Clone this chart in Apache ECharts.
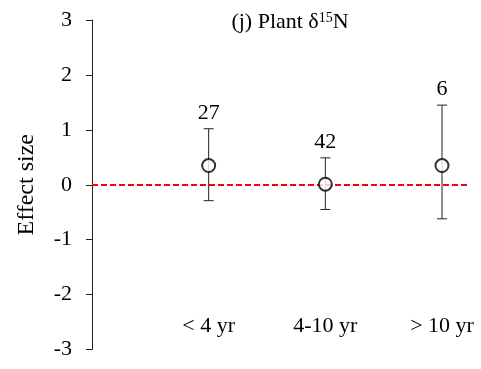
<!DOCTYPE html>
<html>
<head>
<meta charset="utf-8">
<script src="https://cdn.jsdelivr.net/npm/echarts@6/dist/echarts.min.js"></script>
<style>
  html, body { margin: 0; padding: 0; background: #fff; }
  #chart { width: 481px; height: 369px; }
</style>
</head>
<body>
<div id="chart"></div>
<script>
// Stand age classes and their mean effect sizes with 95% CI
const categories = ['< 4 yr', '4-10 yr', '> 10 yr'];
const positions = [1, 2, 3];
const means = [0.35, 0.01, 0.35];
const lowerCI = [-0.29, -0.45, -0.62];
const upperCI = [1.02, 0.49, 1.45];
const sampleSizes = ['27', '42', '6'];
const yTicks = [-3, -2, -1, 0, 1, 2, 3];

const SERIF = '"Liberation Serif", "Times New Roman", serif';

const chart = echarts.init(document.getElementById('chart'));

const barData = positions.map((x, i) => [x, lowerCI[i], upperCI[i], sampleSizes[i]]);
const pointData = positions.map((x, i) => [x, means[i]]);

chart.setOption({
  animation: false,
  backgroundColor: '#ffffff',
  title: {
    text: '(j) Plant δ{sup|15}N',
    left: 285, top: 6, textAlign: 'center',
    textStyle: {
      fontFamily: SERIF, fontSize: 22, fontWeight: 'normal', color: '#000',
      rich: {
        sup: { fontFamily: SERIF, fontSize: 14, verticalAlign: 'top', color: '#000', padding: [0, 0, 9, 0] }
      }
    }
  },
  grid: { left: 92, right: 11, top: 20, bottom: 19.5, containLabel: false },
  xAxis: {
    type: 'value', min: 0, max: 3.24, interval: 1,
    axisLine: { show: false }, axisTick: { show: false }, splitLine: { show: false },
    axisLabel: {
      show: true, margin: -34, fontFamily: SERIF, fontSize: 22, color: '#000',
      formatter: v => { const i = positions.indexOf(v); return i >= 0 ? categories[i] : ''; }
    }
  },
  yAxis: {
    type: 'value', min: yTicks[0], max: yTicks[yTicks.length - 1], interval: 1,
    name: 'Effect size', nameLocation: 'middle', nameGap: 53, nameRotate: 90,
    nameTextStyle: { fontFamily: SERIF, fontSize: 24, color: '#000' },
    axisLine: { show: true, lineStyle: { color: '#222', width: 1 } },
    axisTick: { show: true, length: 6, lineStyle: { color: '#222', width: 1 } },
    splitLine: { show: false },
    axisLabel: { margin: 20, fontFamily: SERIF, fontSize: 22, color: '#000' }
  },
  series: [
    {
      type: 'custom',
      data: barData,
      z: 2,
      renderItem: function (params, api) {
        const x = api.value(0);
        const lo = api.coord([x, api.value(1)]);
        const hi = api.coord([x, api.value(2)]);
        const cap = 5;
        const style = { stroke: '#222', lineWidth: 1 };
        return {
          type: 'group',
          children: [
            { type: 'line', shape: { x1: lo[0], y1: lo[1], x2: hi[0], y2: hi[1] }, style },
            { type: 'line', shape: { x1: hi[0] - cap, y1: hi[1], x2: hi[0] + cap, y2: hi[1] }, style },
            { type: 'line', shape: { x1: lo[0] - cap, y1: lo[1], x2: lo[0] + cap, y2: lo[1] }, style },
            {
              type: 'text',
              style: {
                x: hi[0], y: hi[1] - 16, text: api.value(3),
                align: 'center', verticalAlign: 'middle',
                font: '22px ' + SERIF, fill: '#000'
              }
            }
          ]
        };
      }
    },
    {
      type: 'scatter',
      data: pointData,
      symbol: 'circle', symbolSize: 13, z: 5,
      itemStyle: { color: '#fff', borderColor: '#000', borderWidth: 2 },
      markLine: {
        silent: true, symbol: ['none', 'none'], label: { show: false },
        lineStyle: { color: '#ff0000', type: [6, 3], width: 1.8 },
        data: [{ yAxis: 0 }]
      }
    }
  ]
});
</script>
</body>
</html>
